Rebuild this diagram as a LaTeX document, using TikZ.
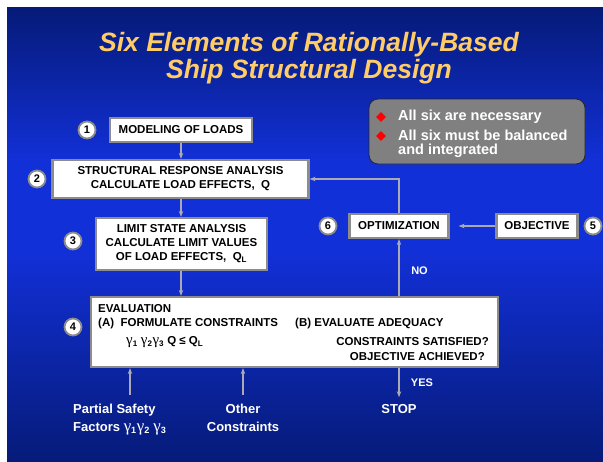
\documentclass[tikz,border=0pt]{standalone}
\usepackage{fontspec}
\setmainfont{Liberation Sans}
\newfontfamily\gfont[Scale=1.3]{Liberation Serif}
\newcommand{\gam}{{\gfont\mdseries γ}}
\usetikzlibrary{shapes.geometric,arrows.meta}
\definecolor{titlecol}{RGB}{255,204,102}
\definecolor{boxgray}{RGB}{140,140,140}
\definecolor{arrgray}{RGB}{170,170,180}
\definecolor{panelgray}{RGB}{128,128,128}
\definecolor{bgtop}{RGB}{2,20,92}
\definecolor{bgmid}{RGB}{18,48,215}
\definecolor{bgbot}{RGB}{3,22,100}
\pgfdeclareverticalshading{bgshade}{100bp}{color(0bp)=(bgbot); color(20bp)=(bgbot); color(48bp)=(bgmid); color(58bp)=(bgmid); color(80bp)=(bgtop); color(100bp)=(bgtop)}
\begin{document}
\begin{tikzpicture}[x=1pt,y=-1pt,
  box/.style={draw=boxgray, line width=2.2pt, fill=white, align=center, inner sep=0pt,
    font=\bfseries\fontsize{11.5}{14}\selectfont},
  num/.style={circle, draw=boxgray, line width=1.8pt, fill=white, minimum size=17pt, inner sep=0pt,
    font=\bfseries\fontsize{11}{12}\selectfont},
  arr/.style={draw=arrgray, line width=1.3pt, -{Stealth[length=6pt,width=4.5pt]}},
  evtext/.style={inner sep=0pt, font=\bfseries\fontsize{11.5}{14}\selectfont},
  wlabel/.style={text=white, inner sep=0pt, font=\bfseries\fontsize{13}{18}\selectfont},
  slabel/.style={text=white, inner sep=0pt, font=\bfseries\fontsize{11}{13}\selectfont},
  ptext/.style={text=white, inner sep=0pt, align=left, font=\bfseries\fontsize{14.5}{14}\selectfont},
  bullet/.style={diamond, fill=red, minimum size=10pt, inner sep=0pt}
]
\useasboundingbox (0,0) rectangle (603,461);
\fill[white] (0,0) rectangle (603,461);
\shade[shading=bgshade] (7,7) rectangle (603,461);

% title
\node[text=titlecol, align=center, font=\bfseries\itshape\fontsize{26.5}{27}\selectfont] (title) at (309,58)
  {Six Elements of Rationally-Based\\Ship Structural Design};

% panel
\node[draw=black!85, line width=0.8pt, fill=panelgray, rounded corners=9pt,
  minimum width=216pt, minimum height=65pt] (panel) at (477,131.5) {};
\node[bullet] (d1) at (381,117) {};
\node[bullet] (d2) at (381,136) {};
\node[ptext, anchor=west] (p1) at (398,117) {All six are necessary};
\node[ptext, anchor=north west] (p2) at (398,130) {All six must be balanced\\and integrated};

% boxes
\node[box, minimum width=142pt, minimum height=24pt] (b1) at (181,130) {MODELING OF LOADS};
\node[box, minimum width=256pt, minimum height=38pt] (b2) at (180.5,179)
  {STRUCTURAL RESPONSE ANALYSIS\\CALCULATE LOAD EFFECTS,\ \ Q};
\node[box, minimum width=171pt, minimum height=52pt] (b3) at (181.5,244)
  {LIMIT STATE ANALYSIS\\CALCULATE LIMIT VALUES\\OF LOAD EFFECTS,\ \ Q\textsubscript{L}};
\node[box, minimum width=407pt, minimum height=70pt] (b4) at (294.5,332) {};
\node[box, minimum width=99pt, minimum height=24pt] (b6) at (399,226) {OPTIMIZATION};
\node[box, minimum width=81pt, minimum height=24pt] (b5) at (537,226) {OBJECTIVE};

% evaluation texts
\node[evtext, anchor=west] (ev1) at (98,309) {EVALUATION};
\node[evtext, anchor=west] (ev2) at (98,324) {(A)\ \ FORMULATE CONSTRAINTS};
\node[evtext, anchor=west] (ev3) at (295,324) {(B) EVALUATE ADEQUACY};
\node[evtext, anchor=west] (ev4) at (126,342)
  {\gam\textsubscript{1} \gam\textsubscript{2}\gam\textsubscript{3} Q ≤ Q\textsubscript{L}};
\node[evtext, anchor=east] (ev5) at (489,342) {CONSTRAINTS SATISFIED?};
\node[evtext, anchor=east] (ev6) at (485,356.5) {OBJECTIVE ACHIEVED?};

% number circles
\node[num] (n1) at (87,130) {1};
\node[num] (n2) at (37,179) {2};
\node[num] (n3) at (73,241) {3};
\node[num] (n4) at (73,327) {4};
\node[num] (n5) at (593,226) {5};
\node[num] (n6) at (328,226) {6};

% bottom labels
\node[wlabel, anchor=west, align=left] (ps) at (73,419.5)
  {Partial Safety\\Factors \gam\textsubscript{1}\gam\textsubscript{2} \gam\textsubscript{3}};
\node[wlabel, align=center] (oc) at (243,417.5) {Other\\Constraints};
\node[wlabel] (stop) at (399,409) {STOP};
\node[slabel] (no) at (419.5,271) {NO};
\node[slabel] (yes) at (422,383) {YES};
\coordinate (psa) at (130,395);
\coordinate (oca) at (243,395);

% connectors
\draw[arr] (b1.south) -- (b1.south |- b2.north);
\draw[arr] (b1.south |- b2.south) -- (b1.south |- b3.north);
\draw[arr] (b1.south |- b3.south) -- (b1.south |- b4.north);
\draw[arr] (b6.north) |- (b2.east);
\draw[arr, shorten >=9pt] (b5.west) -- (b6.east);
\draw[arr] (b6.south |- b4.north) -- (b6.south);
\draw[arr, shorten >=7pt] (b6.south |- b4.south) -- (stop.north);
\draw[arr] (psa) -- (psa |- b4.south);
\draw[arr] (oca) -- (oca |- b4.south);
\end{tikzpicture}
\end{document}
